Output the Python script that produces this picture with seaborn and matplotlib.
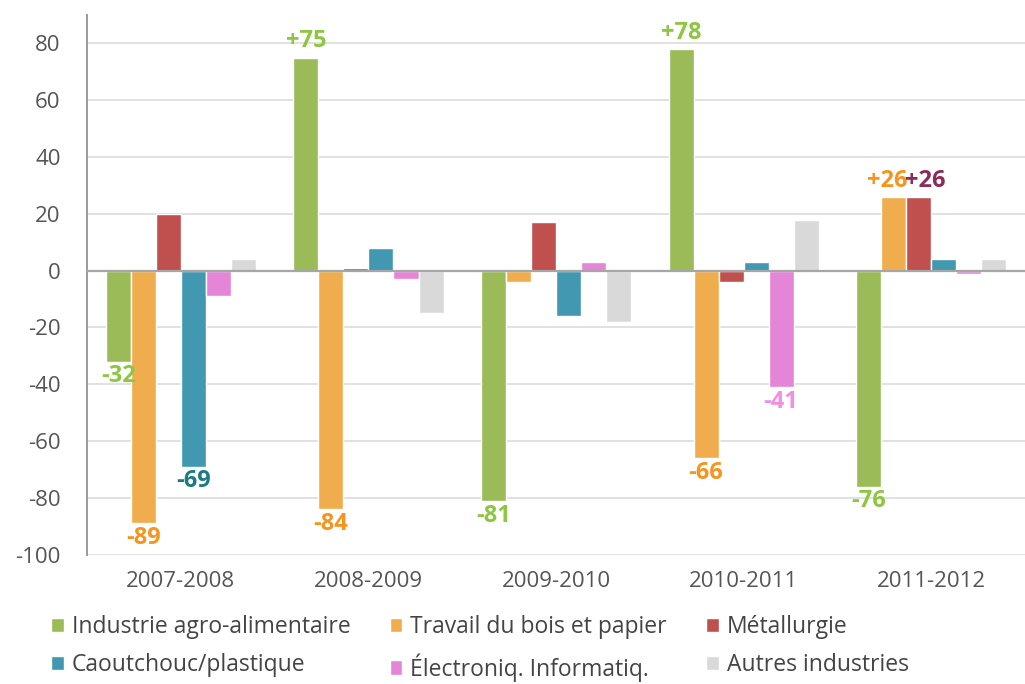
import seaborn as sns
import matplotlib.pyplot as plt
import pandas as pd

periods = ["2007-2008", "2008-2009", "2009-2010", "2010-2011", "2011-2012"]
sectors = ["Industrie agro-alimentaire", "Travail du bois et papier", "Métallurgie",
           "Caoutchouc/plastique", "Électroniq. Informatiq.", "Autres industries"]
agro = [-32, 75, -81, 78, -76]
bois = [-89, -84, -4, -66, 26]
metal = [20, 1, 17, -4, 26]
caout = [-69, 8, -16, 3, 4]
elec = [-9, -3, 3, -41, -1]
autres = [4, -15, -18, 18, 4]
bar_colors = ["#9bbb59", "#f0ad4e", "#c0504d", "#4198b0", "#e485d8", "#d9d9d9"]

# labelled bars: (sector index, period index, text colour)
labelled = [(0, 0, "#8dc63f"), (1, 0, "#f7941d"), (3, 0, "#1b7a82"),
            (0, 1, "#8dc63f"), (1, 1, "#f7941d"),
            (0, 2, "#8dc63f"),
            (0, 3, "#8dc63f"), (1, 3, "#f7941d"), (4, 3, "#f28fe0"),
            (0, 4, "#8dc63f"), (1, 4, "#f7941d"), (2, 4, "#8e2a5a")]

series = [agro, bois, metal, caout, elec, autres]
df = pd.DataFrame([(p, s, v[i]) for s, v in zip(sectors, series) for i, p in enumerate(periods)],
                  columns=["period", "sector", "value"])

sns.set_style("white")
plt.rcParams["font.family"] = ["Open Sans", "DejaVu Sans"]
plt.rcParams["axes.unicode_minus"] = False

fig = plt.figure(figsize=(10.25, 6.84), dpi=100)
ax = fig.add_axes([0.085, 0.189, 0.915, 0.789])
sns.barplot(data=df, x="period", y="value", hue="sector", palette=bar_colors,
            width=0.8, saturation=1, ax=ax, legend=True)

ax.set_ylim(-100, 90)
ax.set_yticks(range(-100, 81, 20))
ax.set_xlim(-0.5, 4.5)
ax.yaxis.grid(True, color="#dcdcdc", linewidth=1.2)
ax.set_axisbelow(True)
ax.axhline(0, color="#a6a6a6", linewidth=1.6, zorder=3)
for side in ["top", "right", "bottom"]:
    ax.spines[side].set_visible(False)
ax.spines["left"].set_color("#9a9a9a")
ax.spines["left"].set_linewidth(1.4)
ax.tick_params(axis="y", direction="out", length=7, color="#9a9a9a", width=1.2,
               labelsize=16, labelcolor="#555555", pad=12)
ax.tick_params(axis="x", length=0, labelsize=16, labelcolor="#555555", pad=12)
ax.set_xlabel("")
ax.set_ylabel("")

for si, pi, col in labelled:
    bar = ax.containers[si][pi]
    v = series[si][pi]
    x = bar.get_x() + bar.get_width() / 2
    ha = "center"
    # the two +26 labels in 2011-2012 sit side by side
    if pi == 4 and si == 1:
        x, ha = bar.get_x() + bar.get_width() * 1.05, "right"
    elif pi == 4 and si == 2:
        x, ha = bar.get_x() - bar.get_width() * 0.05, "left"
    txt = f"+{v}" if v > 0 else f"{v}"
    ax.annotate(txt, (x, v), xytext=(0, 3 if v > 0 else -2), textcoords="offset points",
                ha=ha, va="bottom" if v > 0 else "top", color=col,
                fontsize=17, fontweight="bold", zorder=5)

handles, labels = ax.get_legend_handles_labels()
order = [0, 3, 1, 4, 2, 5]
ax.legend([handles[i] for i in order], [labels[i] for i in order],
          loc="upper left", bbox_to_anchor=(-0.06, -0.074), ncol=3,
          frameon=False, fontsize=16.5, labelcolor="#444444", handlelength=0.55,
          handleheight=0.6, handletextpad=0.35, columnspacing=1.7, labelspacing=0.6)

fig.savefig("out.png", dpi=100)
